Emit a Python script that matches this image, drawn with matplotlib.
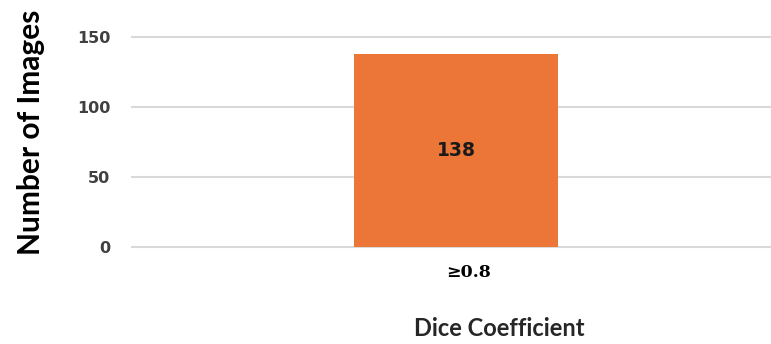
import matplotlib.pyplot as plt
import matplotlib.transforms as mtransforms

# data
categories = ['\u22650.8']
counts = [138]
yticks = [0, 50, 100, 150]

fig = plt.figure(figsize=(7.71, 3.44), dpi=100)
ax = fig.add_axes([131 / 771, 0.2698, 1 - 131 / 771, 0.635])

xs = list(range(len(categories)))
ax.bar(xs, counts, width=0.6, color='#EB7638', zorder=3)
for x, v in zip(xs, counts):
    ax.text(x, v / 2, str(v), ha='center', va='center', fontsize=13.5,
            fontweight='bold', color='#1a1a1a', family='DejaVu Sans', zorder=4)

ax.set_xlim(-0.96, 0.93)
ax.set_ylim(-3, 153)
ax.set_yticks(yticks)
ax.set_yticklabels([str(t) for t in yticks], fontsize=11.5, fontweight='bold',
                   color='#404040', family='DejaVu Sans')
ax.yaxis.grid(True, color='#d9d9d9', linewidth=1.5, zorder=0)
ax.tick_params(axis='y', length=0, pad=15)
ax.set_xticks(xs)
ax.set_xticklabels(categories, fontsize=12.5, fontweight='bold', family='DejaVu Serif')
ax.tick_params(axis='x', length=0, pad=9)
# the category label sits a little right of the bar centre in the original
shift = mtransforms.ScaledTranslation(0.12, 0, fig.dpi_scale_trans)
for lbl in ax.get_xticklabels():
    lbl.set_transform(lbl.get_transform() + shift)
for s in ax.spines.values():
    s.set_visible(False)

fig.text(499 / 771, 1 - 329 / 344, 'Dice Coefficient', ha='center', va='center',
         fontsize=17, fontweight='bold', color='#262626', family='Lato')
fig.text(31 / 771, 1 - 132 / 344, 'Number of Images', ha='center', va='center',
         rotation=90, fontsize=21.5, fontweight='bold', color='black', family='Lato')

plt.savefig('out.png', dpi=100)
